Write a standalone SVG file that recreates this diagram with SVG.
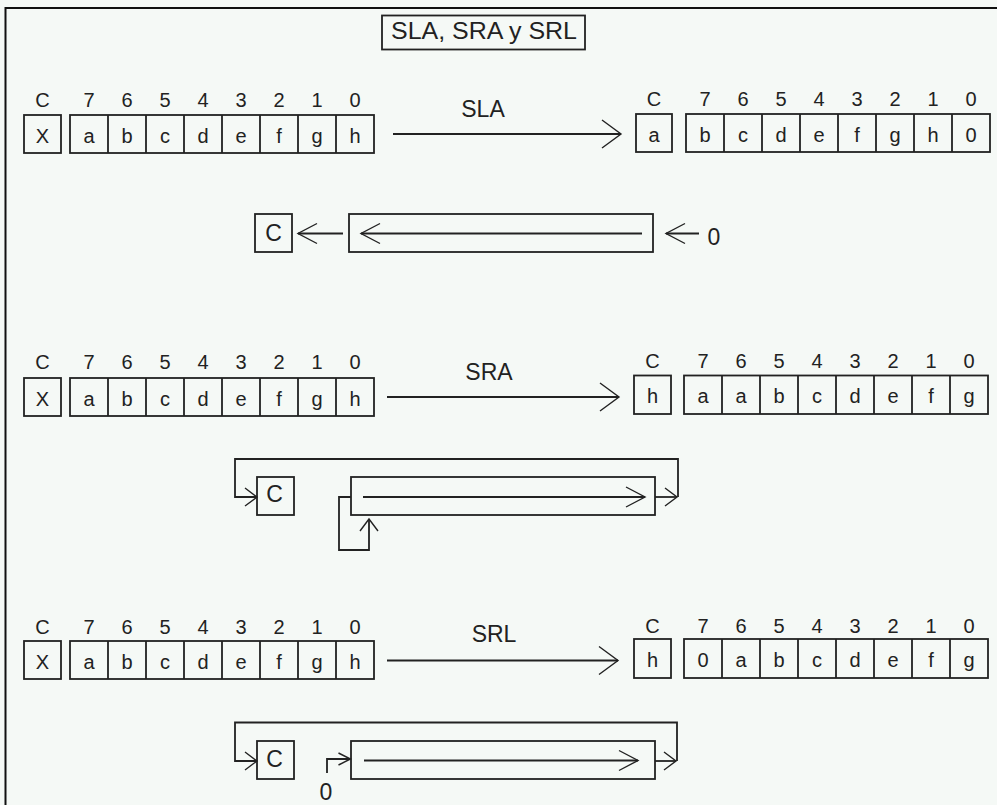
<svg xmlns="http://www.w3.org/2000/svg" width="997" height="805" viewBox="0 0 997 805">
<style>
.bx{fill:none;stroke:#222;stroke-width:1.8}
.dv{stroke:#222;stroke-width:1.8}
.ln{fill:none;stroke:#222;stroke-width:1.8}
.t{font-family:"Liberation Sans",Arial,Helvetica,sans-serif;font-size:20px;fill:#222;text-anchor:middle}
.tl{font-family:"Liberation Sans",Arial,Helvetica,sans-serif;font-size:23px;fill:#222;text-anchor:middle}
</style>
<defs>
<marker id="big" viewBox="-24 -16 26 32" markerWidth="26" markerHeight="32" refX="0" refY="0" orient="auto" markerUnits="userSpaceOnUse" overflow="visible"><path d="M-19,-14 L0,0 L-19,14" fill="none" stroke="#222" stroke-width="1.4"/></marker>
<marker id="mid" viewBox="-24 -16 26 32" markerWidth="26" markerHeight="32" refX="0" refY="0" orient="auto" markerUnits="userSpaceOnUse" overflow="visible"><path d="M-19,-10 L0,0 L-19,10" fill="none" stroke="#222" stroke-width="1.4"/></marker>
<marker id="sm" viewBox="-24 -16 26 32" markerWidth="26" markerHeight="32" refX="0" refY="0" orient="auto" markerUnits="userSpaceOnUse" overflow="visible"><path d="M-12,-9 L0,0 L-12,9" fill="none" stroke="#222" stroke-width="1.4"/></marker>
<marker id="tiny" viewBox="-24 -16 26 32" markerWidth="26" markerHeight="32" refX="0" refY="0" orient="auto" markerUnits="userSpaceOnUse" overflow="visible"><path d="M-12,-6 L0,0 L-12,6" fill="none" stroke="#222" stroke-width="1.4"/></marker>
</defs>
<rect width="997" height="805" fill="#f5f9f6"/>
<path d="M5.5,805 V8 H997" fill="none" stroke="#111" stroke-width="2"/>

<g id="title">
<rect class="bx" x="382" y="15.5" width="203" height="34"/>
<text class="tl" x="484" y="38.5" textLength="186" lengthAdjust="spacingAndGlyphs">SLA, SRA y SRL</text>
</g>

<!-- ROW 1: SLA -->
<g id="sla-left-labels">
<text class="t" x="42.5" y="107">C</text><text class="t" x="89" y="107">7</text><text class="t" x="127" y="107">6</text><text class="t" x="165" y="107">5</text><text class="t" x="203" y="107">4</text><text class="t" x="241" y="107">3</text><text class="t" x="279" y="107">2</text><text class="t" x="317" y="107">1</text><text class="t" x="355" y="107">0</text>
</g>
<g id="sla-left-c">
<rect class="bx" x="24" y="115" width="37" height="38"/>
<text class="t" x="42.5" y="143">X</text>
</g>
<g id="sla-left-reg">
<rect class="bx" x="70" y="115" width="304" height="38"/>
<path class="dv" d="M108,115V153M146,115V153M184,115V153M222,115V153M260,115V153M298,115V153M336,115V153"/>
<text class="t" x="89" y="143">a</text><text class="t" x="127" y="143">b</text><text class="t" x="165" y="143">c</text><text class="t" x="203" y="143">d</text><text class="t" x="241" y="143">e</text><text class="t" x="279" y="143">f</text><text class="t" x="317" y="143">g</text><text class="t" x="355" y="143">h</text>
</g>
<g id="sla-label"><text class="tl" x="483" y="117">SLA</text></g>
<g id="sla-right-labels">
<text class="t" x="654" y="106">C</text><text class="t" x="705" y="106">7</text><text class="t" x="743" y="106">6</text><text class="t" x="781" y="106">5</text><text class="t" x="819" y="106">4</text><text class="t" x="857" y="106">3</text><text class="t" x="895" y="106">2</text><text class="t" x="933" y="106">1</text><text class="t" x="971" y="106">0</text>
</g>
<g id="sla-right-c">
<rect class="bx" x="636" y="114" width="36" height="38"/>
<text class="t" x="654" y="142">a</text>
</g>
<g id="sla-right-reg">
<rect class="bx" x="686" y="114" width="304" height="38"/>
<path class="dv" d="M724,114V152M762,114V152M800,114V152M838,114V152M876,114V152M914,114V152M952,114V152"/>
<text class="t" x="705" y="142">b</text><text class="t" x="743" y="142">c</text><text class="t" x="781" y="142">d</text><text class="t" x="819" y="142">e</text><text class="t" x="857" y="142">f</text><text class="t" x="895" y="142">g</text><text class="t" x="933" y="142">h</text><text class="t" x="971" y="142">0</text>
</g>
<g id="sla-c"><rect class="bx" x="255" y="214" width="37" height="38"/><text class="tl" x="273.5" y="241">C</text></g>
<g id="sla-reg"><rect class="bx" x="349" y="214" width="304" height="38"/></g>
<g id="sla-zero"><text class="tl" x="714" y="245">0</text></g>

<!-- ROW 2: SRA -->
<g id="sra-left-labels">
<text class="t" x="42.5" y="369">C</text><text class="t" x="89" y="369">7</text><text class="t" x="127" y="369">6</text><text class="t" x="165" y="369">5</text><text class="t" x="203" y="369">4</text><text class="t" x="241" y="369">3</text><text class="t" x="279" y="369">2</text><text class="t" x="317" y="369">1</text><text class="t" x="355" y="369">0</text>
</g>
<g id="sra-left-c">
<rect class="bx" x="24" y="378" width="37" height="38"/>
<text class="t" x="42.5" y="406">X</text>
</g>
<g id="sra-left-reg">
<rect class="bx" x="70" y="378" width="304" height="38"/>
<path class="dv" d="M108,378V416M146,378V416M184,378V416M222,378V416M260,378V416M298,378V416M336,378V416"/>
<text class="t" x="89" y="406">a</text><text class="t" x="127" y="406">b</text><text class="t" x="165" y="406">c</text><text class="t" x="203" y="406">d</text><text class="t" x="241" y="406">e</text><text class="t" x="279" y="406">f</text><text class="t" x="317" y="406">g</text><text class="t" x="355" y="406">h</text>
</g>
<g id="sra-label"><text class="tl" x="489" y="380">SRA</text></g>
<g id="sra-right-labels">
<text class="t" x="652.5" y="368">C</text><text class="t" x="703" y="368">7</text><text class="t" x="741" y="368">6</text><text class="t" x="779" y="368">5</text><text class="t" x="817" y="368">4</text><text class="t" x="855" y="368">3</text><text class="t" x="893" y="368">2</text><text class="t" x="931" y="368">1</text><text class="t" x="969" y="368">0</text>
</g>
<g id="sra-right-c">
<rect class="bx" x="634" y="375.5" width="37" height="38.5"/>
<text class="t" x="652.5" y="403">h</text>
</g>
<g id="sra-right-reg">
<rect class="bx" x="684" y="375.5" width="304" height="38.5"/>
<path class="dv" d="M722,375.5V414M760,375.5V414M798,375.5V414M836,375.5V414M874,375.5V414M912,375.5V414M950,375.5V414"/>
<text class="t" x="703" y="403">a</text><text class="t" x="741" y="403">a</text><text class="t" x="779" y="403">b</text><text class="t" x="817" y="403">c</text><text class="t" x="855" y="403">d</text><text class="t" x="893" y="403">e</text><text class="t" x="931" y="403">f</text><text class="t" x="969" y="403">g</text>
</g>
<g id="sra-c"><rect class="bx" x="257" y="477" width="37" height="38"/><text class="tl" x="274.5" y="502">C</text></g>
<g id="sra-reg"><rect class="bx" x="351" y="477" width="304" height="38"/></g>

<!-- ROW 3: SRL -->
<g id="srl-left-labels">
<text class="t" x="42.5" y="634">C</text><text class="t" x="89" y="634">7</text><text class="t" x="127" y="634">6</text><text class="t" x="165" y="634">5</text><text class="t" x="203" y="634">4</text><text class="t" x="241" y="634">3</text><text class="t" x="279" y="634">2</text><text class="t" x="317" y="634">1</text><text class="t" x="355" y="634">0</text>
</g>
<g id="srl-left-c">
<rect class="bx" x="24" y="641" width="37" height="38"/>
<text class="t" x="42.5" y="669">X</text>
</g>
<g id="srl-left-reg">
<rect class="bx" x="70" y="641" width="304" height="38"/>
<path class="dv" d="M108,641V679M146,641V679M184,641V679M222,641V679M260,641V679M298,641V679M336,641V679"/>
<text class="t" x="89" y="669">a</text><text class="t" x="127" y="669">b</text><text class="t" x="165" y="669">c</text><text class="t" x="203" y="669">d</text><text class="t" x="241" y="669">e</text><text class="t" x="279" y="669">f</text><text class="t" x="317" y="669">g</text><text class="t" x="355" y="669">h</text>
</g>
<g id="srl-label"><text class="tl" x="494" y="642">SRL</text></g>
<g id="srl-right-labels">
<text class="t" x="652.5" y="633">C</text><text class="t" x="703" y="633">7</text><text class="t" x="741" y="633">6</text><text class="t" x="779" y="633">5</text><text class="t" x="817" y="633">4</text><text class="t" x="855" y="633">3</text><text class="t" x="893" y="633">2</text><text class="t" x="931" y="633">1</text><text class="t" x="969" y="633">0</text>
</g>
<g id="srl-right-c">
<rect class="bx" x="634" y="639" width="37" height="39"/>
<text class="t" x="652.5" y="667">h</text>
</g>
<g id="srl-right-reg">
<rect class="bx" x="684" y="639" width="304" height="39"/>
<path class="dv" d="M722,639V678M760,639V678M798,639V678M836,639V678M874,639V678M912,639V678M950,639V678"/>
<text class="t" x="703" y="667">0</text><text class="t" x="741" y="667">a</text><text class="t" x="779" y="667">b</text><text class="t" x="817" y="667">c</text><text class="t" x="855" y="667">d</text><text class="t" x="893" y="667">e</text><text class="t" x="931" y="667">f</text><text class="t" x="969" y="667">g</text>
</g>
<g id="srl-c"><rect class="bx" x="257" y="741" width="37" height="38"/><text class="tl" x="274.5" y="767">C</text></g>
<g id="srl-reg"><rect class="bx" x="351" y="741" width="304" height="38"/></g>
<g id="srl-zero"><text class="tl" x="326" y="800">0</text></g>

<g id="connectors">
<path class="ln" d="M393,134 H621" marker-end="url(#big)"/>
<path class="ln" d="M343,233.5 H298" marker-end="url(#mid)"/>
<path class="ln" d="M642,233.5 H361" marker-end="url(#mid)"/>
<path class="ln" d="M699,233.5 H666" marker-end="url(#mid)"/>

<path class="ln" d="M387,397 H619" marker-end="url(#big)"/>
<path class="ln" d="M655,497 H677" marker-end="url(#sm)"/>
<path class="ln" d="M678,497 V459 H235 V497 H257" marker-end="url(#sm)"/>
<path class="ln" d="M363,497 H645" marker-end="url(#mid)"/>
<path class="ln" d="M351,497 H339 V550 H369 V519" marker-end="url(#sm)"/>

<path class="ln" d="M387,660.5 H618" marker-end="url(#big)"/>
<path class="ln" d="M655,761 H676" marker-end="url(#sm)"/>
<path class="ln" d="M677,761 V722.5 H235 V761 H257" marker-end="url(#sm)"/>
<path class="ln" d="M364,760.5 H638" marker-end="url(#mid)"/>
<path class="ln" d="M327,773 V759 H350.5" marker-end="url(#tiny)"/>
</g>
</svg>
